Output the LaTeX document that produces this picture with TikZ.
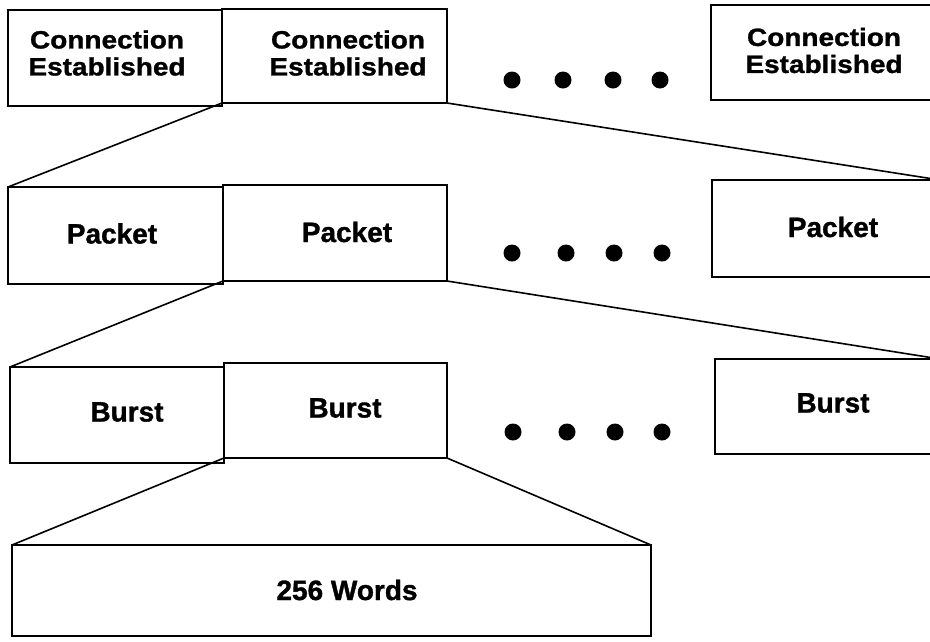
\documentclass[tikz,border=0pt]{standalone}
\usepackage{fontspec}
\setmainfont{Liberation Sans}[BoldFeatures={FakeBold=1.2}]
\newfontfamily\cefont{Liberation Sans}[FakeStretch=1.12,BoldFeatures={FakeBold=1.2}]
\begin{document}
\begin{tikzpicture}[x=1pt,y=-1pt,
  box/.style={draw, line width=2pt, outer sep=0pt, inner sep=0pt, anchor=north west},
  lbl/.style={font=\bfseries\fontsize{28}{28}\selectfont, inner sep=0pt},
  celbl/.style={font=\cefont\bfseries\fontsize{25}{27}\selectfont, align=center, inner sep=0pt},
  dot/.style={circle, fill=black, minimum size=17pt, inner sep=0pt},
  conn/.style={line width=1.6pt}]
\useasboundingbox (0,0) rectangle (930,641);
\clip (0,0) rectangle (930,641);
% row 1
\node[box, minimum width=214pt, minimum height=96pt] (c1) at (8,10) {};
\node[box, minimum width=225pt, minimum height=94pt] (c2) at (222,9) {};
\node[box, minimum width=229pt, minimum height=95pt] (c3) at (711,5) {};
\node[celbl] (tc1) at (107,53) {Connection\\Established};
\node[celbl] (tc2) at (348,53) {Connection\\Established};
\node[celbl] (tc3) at (824,50.5) {Connection\\Established};
\node[dot] (d11) at (512,80) {};
\node[dot] (d12) at (563,80) {};
\node[dot] (d13) at (613,80) {};
\node[dot] (d14) at (660,80) {};
% row 2
\node[box, minimum width=215pt, minimum height=97pt] (p1) at (8,187) {};
\node[box, minimum width=224pt, minimum height=96pt] (p2) at (223,185) {};
\node[box, minimum width=228pt, minimum height=97pt] (p3) at (712,180) {};
\node[lbl] (tp1) at (112,233.5) {Packet};
\node[lbl] (tp2) at (347,232) {Packet};
\node[lbl] (tp3) at (833,227) {Packet};
\node[dot] (d21) at (512,253) {};
\node[dot] (d22) at (566,253) {};
\node[dot] (d23) at (614,253) {};
\node[dot] (d24) at (662,253) {};
% row 3
\node[box, minimum width=214pt, minimum height=96pt] (b1) at (10,367) {};
\node[box, minimum width=223pt, minimum height=95pt] (b2) at (224,363) {};
\node[box, minimum width=225pt, minimum height=95pt] (b3) at (715,359) {};
\node[lbl] (tb1) at (127,412) {Burst};
\node[lbl] (tb2) at (345,408) {Burst};
\node[lbl] (tb3) at (833,403) {Burst};
\node[dot] (d31) at (513,432) {};
\node[dot] (d32) at (567,432) {};
\node[dot] (d33) at (615,432) {};
\node[dot] (d34) at (662,432) {};
% row 4
\node[box, minimum width=639pt, minimum height=91pt] (w) at (12,545) {};
\node[lbl] (tw) at (347,590) {256 Words};
% connectors
\draw[conn] (c2.south west) -- (p1.north west);
\draw[conn] (c2.south east) -- (p3.north east);
\draw[conn] (p2.south west) -- (b1.north west);
\draw[conn] (p2.south east) -- (b3.north east);
\draw[conn] (b2.south west) -- (w.north west);
\draw[conn] (b2.south east) -- (w.north east);
\end{tikzpicture}
\end{document}
